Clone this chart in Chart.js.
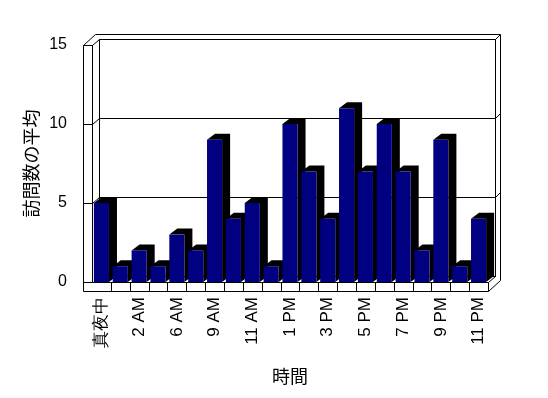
<!DOCTYPE html>
<html>
<head>
<meta charset="utf-8">
<script src="https://cdn.jsdelivr.net/npm/chart.js@4/dist/chart.umd.min.js"></script>
<style>
  html, body { margin: 0; padding: 0; background: #fff; }
  #wrap { width: 548px; height: 398px; }
</style>
</head>
<body>
<div id="wrap"><canvas id="chart"></canvas></div>
<script>
// data
const hours = ['真夜中', '1 AM', '2 AM', '4 AM', '6 AM', '8 AM', '9 AM', '10 AM', '11 AM', '正午', '1 PM',
               '2 PM', '3 PM', '4 PM', '5 PM', '6 PM', '7 PM', '8 PM', '9 PM', '10 PM', '11 PM'];
const avgVisits = [5, 1, 2, 1, 3, 2, 9, 4, 5, 1, 10, 7, 4, 11, 7, 10, 7, 2, 9, 1, 4];
const yTicks = [0, 5, 10, 15];

const navy = '#000080';
const DX = 7, DY = -6;        // depth of the plot box
const BDX = 8, BDY = -6;      // depth of each bar
const WALL = 9;               // thickness of left wall / floor
const BACK = 5;               // thickness of back wall

function line(ctx, x1, y1, x2, y2) {
    ctx.beginPath();
    ctx.moveTo(x1, y1);
    ctx.lineTo(x2, y2);
    ctx.stroke();
}

// draws the 3d walls, floor, grid and bar sides before the bar fronts
const box3d = {
    id: 'box3d',
    beforeDatasetsDraw(chart) {
        const ctx = chart.ctx;
        const xs = chart.scales.x, ys = chart.scales.y;
        const L = Math.round(chart.chartArea.left) + 0.5;
        const R = Math.round(chart.chartArea.right) + 0.5;
        const B = Math.round(ys.getPixelForValue(0)) + 0.5;
        const T = Math.round(ys.getPixelForValue(15)) + 0.5;
        const OL = L - WALL, FB = B + WALL;

        ctx.save();
        ctx.strokeStyle = '#000';
        ctx.lineWidth = 1;

        // front of left wall and floor
        ctx.beginPath();
        ctx.moveTo(OL, T); ctx.lineTo(L, T); ctx.lineTo(L, B); ctx.lineTo(R, B);
        ctx.lineTo(R, FB); ctx.lineTo(OL, FB); ctx.closePath();
        ctx.stroke();

        // top of left wall
        line(ctx, OL, T, OL + DX + BACK, T + DY - BACK);
        line(ctx, L, T, L + DX, T + DY);

        // back wall inner face
        ctx.strokeRect(L + DX, T + DY, R - L, B - T);

        // back wall outer edge
        ctx.beginPath();
        ctx.moveTo(OL + DX + BACK, T + DY - BACK);
        ctx.lineTo(R + DX + BACK, T + DY - BACK);
        ctx.lineTo(R + DX + BACK, FB + DY - BACK);
        ctx.stroke();
        line(ctx, R + DX, T + DY, R + DX + BACK, T + DY - BACK);

        // right end of floor
        line(ctx, R, B, R + DX, B + DY);
        line(ctx, R, FB, R + DX + BACK, FB + DY - BACK);

        // grid lines and ticks
        yTicks.forEach(v => {
            const y = Math.round(ys.getPixelForValue(v)) + 0.5;
            line(ctx, OL, y, L, y);
            if (v > 0 && v < 15) {
                line(ctx, L, y, L + DX, y + DY);
                line(ctx, L + DX, y + DY, R + DX, y + DY);
                line(ctx, R + DX, y + DY, R + DX + BACK, y + DY - BACK);
            }
        });

        // category dividers on the floor front
        for (let i = 1; i < hours.length; i++) {
            const x = Math.round((xs.getPixelForValue(i - 1) + xs.getPixelForValue(i)) / 2) + 0.5;
            line(ctx, x, B, x, FB);
        }

        // bar tops and sides
        ctx.fillStyle = '#000';
        chart.getDatasetMeta(0).data.forEach(bar => {
            const x0 = bar.x - bar.width / 2;
            const x1 = bar.x + bar.width / 2;
            const top = bar.y, base = bar.base;
            ctx.beginPath();
            ctx.moveTo(x0, top);
            ctx.lineTo(x0 + BDX, top + BDY);
            ctx.lineTo(x1 + BDX, top + BDY);
            ctx.lineTo(x1 + BDX, base + BDY);
            ctx.lineTo(x1, base);
            ctx.lineTo(x1, top);
            ctx.closePath();
            ctx.fill();
        });
        ctx.restore();
    }
};

new Chart(document.getElementById('chart'), {
    type: 'bar',
    data: {
        labels: hours,
        datasets: [{
            data: avgVisits,
            backgroundColor: navy,
            borderWidth: 0,
            barPercentage: 0.8,
            categoryPercentage: 1.0
        }]
    },
    plugins: [box3d],
    options: {
        responsive: true,
        maintainAspectRatio: false,
        animation: false,
        layout: { padding: { left: 0, right: 60, top: 45, bottom: 0 } },
        plugins: { legend: { display: false }, tooltip: { enabled: false } },
        scales: {
            x: {
                grid: { display: false, drawTicks: false },
                border: { display: false },
                afterFit: s => { s.height = 116; },
                ticks: {
                    autoSkip: false,
                    minRotation: 90,
                    maxRotation: 90,
                    padding: 15,
                    color: '#000',
                    font: { family: 'Liberation Sans', size: 17 },
                    callback: function (val, i) {
                        return i % 2 === 0 ? this.getLabelForValue(val) : '';
                    }
                },
                title: {
                    display: true,
                    text: '時間',
                    color: '#000',
                    font: { family: 'Noto Sans CJK JP', size: 18 },
                    padding: { top: 0, bottom: 11 }
                }
            },
            y: {
                min: 0,
                max: 15,
                afterFit: s => { s.width = 92; },
                afterBuildTicks: s => { s.ticks = yTicks.map(v => ({ value: v })); },
                grid: { display: false, drawTicks: false },
                border: { display: false },
                ticks: {
                    padding: 25,
                    color: '#000',
                    font: { family: 'Liberation Sans', size: 16 }
                },
                title: {
                    display: true,
                    text: '訪問数の平均',
                    color: '#000',
                    font: { family: 'Noto Sans CJK JP', size: 18 },
                    padding: { top: 20, bottom: 0 }
                }
            }
        }
    }
});
</script>
</body>
</html>
